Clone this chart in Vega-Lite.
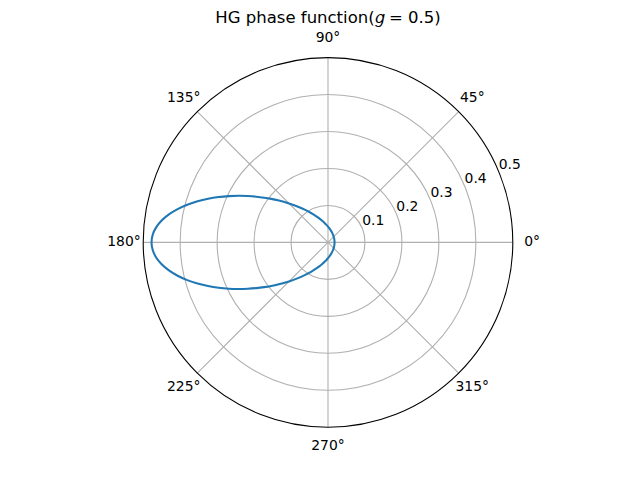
{
  "$schema": "https://vega.github.io/schema/vega-lite/v6.json",
  "width": 369.6,
  "height": 369.6,
  "autosize": {"type": "none"},
  "padding": {"left": 143.2, "top": 57.6, "right": 127.2, "bottom": 52.8},
  "background": "white",
  "config": {"view": {"stroke": null}, "font": "DejaVu Sans"},
  "title": {"text": "HG phase function(𝑔 = 0.5)", "font": "DejaVu Sans", "fontSize": 16.5, "fontWeight": "normal", "anchor": "middle", "offset": 5, "color": "black"},
  "datasets": {
    "curve": [
      {"a": 0, "r": 0.017684}, {"a": 5, "r": 0.017729}, {"a": 10, "r": 0.017864}, {"a": 15, "r": 0.018093},
      {"a": 20, "r": 0.018419}, {"a": 25, "r": 0.018849}, {"a": 30, "r": 0.019390}, {"a": 35, "r": 0.020052},
      {"a": 40, "r": 0.020850}, {"a": 45, "r": 0.021799}, {"a": 50, "r": 0.022920}, {"a": 55, "r": 0.024236},
      {"a": 60, "r": 0.025781}, {"a": 65, "r": 0.027590}, {"a": 70, "r": 0.029712}, {"a": 75, "r": 0.032203},
      {"a": 80, "r": 0.035136}, {"a": 85, "r": 0.038599}, {"a": 90, "r": 0.042706}, {"a": 95, "r": 0.047596},
      {"a": 100, "r": 0.053446}, {"a": 105, "r": 0.060481}, {"a": 110, "r": 0.068982}, {"a": 115, "r": 0.079303},
      {"a": 120, "r": 0.091888}, {"a": 125, "r": 0.107281}, {"a": 130, "r": 0.126136}, {"a": 135, "r": 0.149204},
      {"a": 140, "r": 0.177272}, {"a": 142.5, "r": 0.193411}, {"a": 145, "r": 0.211040}, {"a": 147.5, "r": 0.230189},
      {"a": 150, "r": 0.250840}, {"a": 152.5, "r": 0.272904}, {"a": 155, "r": 0.296209}, {"a": 157.5, "r": 0.320468},
      {"a": 160, "r": 0.345274}, {"a": 162.5, "r": 0.370074}, {"a": 165, "r": 0.394188}, {"a": 167.5, "r": 0.416801},
      {"a": 170, "r": 0.437028}, {"a": 172.5, "r": 0.453965}, {"a": 175, "r": 0.466766}, {"a": 177.5, "r": 0.474750},
      {"a": 180, "r": 0.477465},
      {"a": 182.5, "r": 0.474750}, {"a": 185, "r": 0.466766}, {"a": 187.5, "r": 0.453965}, {"a": 190, "r": 0.437028},
      {"a": 192.5, "r": 0.416801}, {"a": 195, "r": 0.394188}, {"a": 197.5, "r": 0.370074}, {"a": 200, "r": 0.345274},
      {"a": 202.5, "r": 0.320468}, {"a": 205, "r": 0.296209}, {"a": 207.5, "r": 0.272904}, {"a": 210, "r": 0.250840},
      {"a": 212.5, "r": 0.230189}, {"a": 215, "r": 0.211040}, {"a": 217.5, "r": 0.193411}, {"a": 220, "r": 0.177272},
      {"a": 225, "r": 0.149204}, {"a": 230, "r": 0.126136}, {"a": 235, "r": 0.107281}, {"a": 240, "r": 0.091888},
      {"a": 245, "r": 0.079303}, {"a": 250, "r": 0.068982}, {"a": 255, "r": 0.060481}, {"a": 260, "r": 0.053446},
      {"a": 265, "r": 0.047596}, {"a": 270, "r": 0.042706}, {"a": 275, "r": 0.038599}, {"a": 280, "r": 0.035136},
      {"a": 285, "r": 0.032203}, {"a": 290, "r": 0.029712}, {"a": 295, "r": 0.027590}, {"a": 300, "r": 0.025781},
      {"a": 305, "r": 0.024236}, {"a": 310, "r": 0.022920}, {"a": 315, "r": 0.021799}, {"a": 320, "r": 0.020850},
      {"a": 325, "r": 0.020052}, {"a": 330, "r": 0.019390}, {"a": 335, "r": 0.018849}, {"a": 340, "r": 0.018419},
      {"a": 345, "r": 0.018093}, {"a": 350, "r": 0.017864}, {"a": 355, "r": 0.017729}, {"a": 360, "r": 0.017684}
    ],
    "rings": [{"r": 0.1}, {"r": 0.2}, {"r": 0.3}, {"r": 0.4}],
    "spine": [{"r": 0.5}],
    "angles": [
      {"a": 0, "label": "0°"}, {"a": 45, "label": "45°"}, {"a": 90, "label": "90°"}, {"a": 135, "label": "135°"},
      {"a": 180, "label": "180°"}, {"a": 225, "label": "225°"}, {"a": 270, "label": "270°"}, {"a": 315, "label": "315°"}
    ],
    "rticks": [
      {"r": 0.1, "label": "0.1"}, {"r": 0.2, "label": "0.2"}, {"r": 0.3, "label": "0.3"}, {"r": 0.4, "label": "0.4"}, {"r": 0.5, "label": "0.5"}
    ]
  },
  "layer": [
    {
      "data": {"name": "rings"},
      "transform": [{"calculate": "0", "as": "cx"}, {"calculate": "0", "as": "cy"}],
      "mark": {"type": "point", "shape": "circle", "filled": false, "stroke": "#b0b0b0", "strokeWidth": 1.1, "opacity": 1},
      "encoding": {
        "x": {"field": "cx", "type": "quantitative", "scale": {"domain": [-0.5, 0.5], "nice": false, "zero": false}, "axis": null},
        "y": {"field": "cy", "type": "quantitative", "scale": {"domain": [-0.5, 0.5], "nice": false, "zero": false}, "axis": null},
        "size": {"field": "r", "type": "quantitative", "scale": {"type": "pow", "exponent": 2, "domain": [0, 0.5], "range": [0, 136604], "zero": true, "nice": false}, "legend": null}
      }
    },
    {
      "data": {"name": "angles"},
      "transform": [
        {"calculate": "0", "as": "cx"},
        {"calculate": "0", "as": "cy"},
        {"calculate": "0.5*cos(datum.a*PI/180)", "as": "ex"},
        {"calculate": "0.5*sin(datum.a*PI/180)", "as": "ey"}
      ],
      "mark": {"type": "rule", "color": "#b0b0b0", "strokeWidth": 1.1},
      "encoding": {
        "x": {"field": "cx", "type": "quantitative", "scale": {"domain": [-0.5, 0.5], "nice": false, "zero": false}, "axis": null},
        "y": {"field": "cy", "type": "quantitative", "scale": {"domain": [-0.5, 0.5], "nice": false, "zero": false}, "axis": null},
        "x2": {"field": "ex"},
        "y2": {"field": "ey"}
      }
    },
    {
      "data": {"name": "curve"},
      "transform": [
        {"calculate": "datum.r*cos(datum.a*PI/180)", "as": "x"},
        {"calculate": "datum.r*sin(datum.a*PI/180)", "as": "y"}
      ],
      "mark": {"type": "line", "color": "#1f77b4", "strokeWidth": 2.08, "interpolate": "catmull-rom"},
      "encoding": {
        "x": {"field": "x", "type": "quantitative", "scale": {"domain": [-0.5, 0.5], "nice": false, "zero": false}, "axis": null},
        "y": {"field": "y", "type": "quantitative", "scale": {"domain": [-0.5, 0.5], "nice": false, "zero": false}, "axis": null},
        "order": {"field": "a", "type": "quantitative"}
      }
    },
    {
      "data": {"name": "spine"},
      "transform": [{"calculate": "0", "as": "cx"}, {"calculate": "0", "as": "cy"}],
      "mark": {"type": "point", "shape": "circle", "filled": false, "stroke": "black", "strokeWidth": 1.1, "opacity": 1},
      "encoding": {
        "x": {"field": "cx", "type": "quantitative", "scale": {"domain": [-0.5, 0.5], "nice": false, "zero": false}, "axis": null},
        "y": {"field": "cy", "type": "quantitative", "scale": {"domain": [-0.5, 0.5], "nice": false, "zero": false}, "axis": null},
        "size": {"field": "r", "type": "quantitative", "scale": {"type": "pow", "exponent": 2, "domain": [0, 0.5], "range": [0, 136604], "zero": true, "nice": false}, "legend": null}
      }
    },
    {
      "data": {"name": "angles"},
      "transform": [
        {"calculate": "0.552*cos(datum.a*PI/180)", "as": "x"},
        {"calculate": "0.552*sin(datum.a*PI/180)", "as": "y"}
      ],
      "mark": {"type": "text", "font": "DejaVu Sans", "fontSize": 13.9, "color": "black", "align": "center", "baseline": "middle"},
      "encoding": {
        "x": {"field": "x", "type": "quantitative", "scale": {"domain": [-0.5, 0.5], "nice": false, "zero": false}, "axis": null},
        "y": {"field": "y", "type": "quantitative", "scale": {"domain": [-0.5, 0.5], "nice": false, "zero": false}, "axis": null},
        "text": {"field": "label"}
      }
    },
    {
      "data": {"name": "rticks"},
      "transform": [
        {"calculate": "datum.r*cos(22.5*PI/180)", "as": "x"},
        {"calculate": "datum.r*sin(22.5*PI/180)", "as": "y"}
      ],
      "mark": {"type": "text", "font": "DejaVu Sans", "fontSize": 13.9, "color": "black", "align": "left", "baseline": "bottom"},
      "encoding": {
        "x": {"field": "x", "type": "quantitative", "scale": {"domain": [-0.5, 0.5], "nice": false, "zero": false}, "axis": null},
        "y": {"field": "y", "type": "quantitative", "scale": {"domain": [-0.5, 0.5], "nice": false, "zero": false}, "axis": null},
        "text": {"field": "label"}
      }
    }
  ]
}
